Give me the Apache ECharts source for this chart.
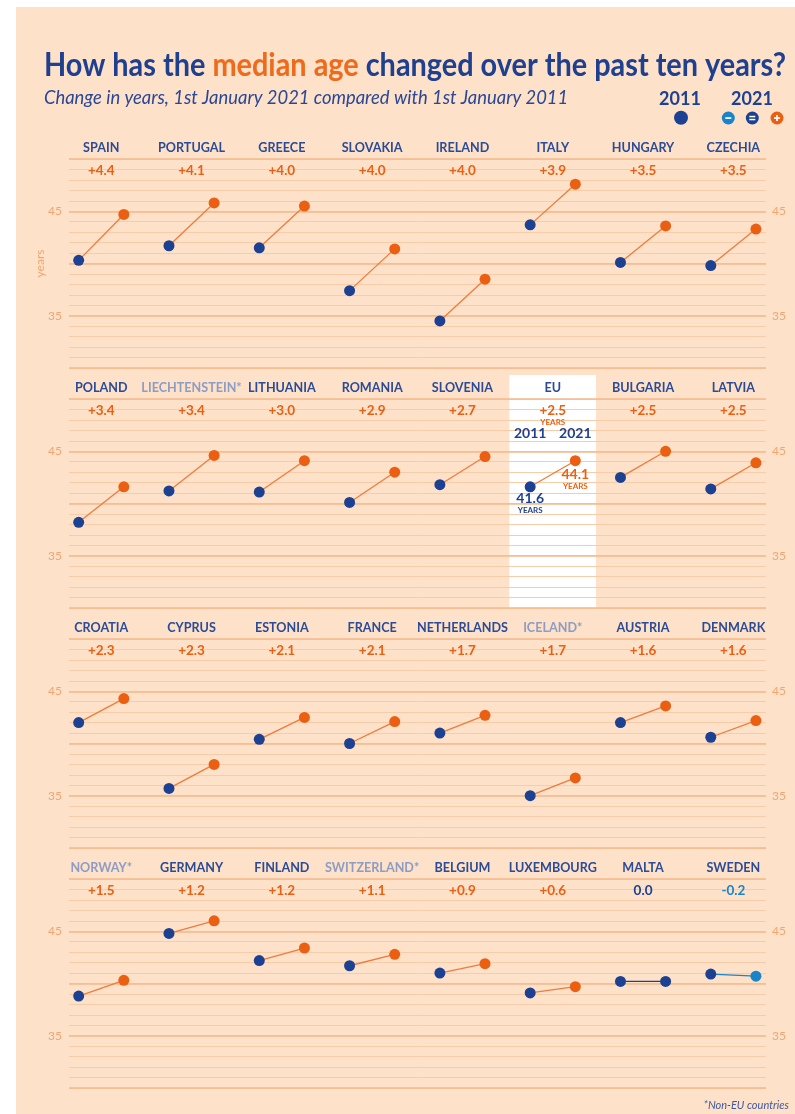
<!DOCTYPE html>
<html><head><meta charset="utf-8">
<script src="https://cdn.jsdelivr.net/npm/echarts@6/dist/echarts.min.js"></script>
<style>
html,body{margin:0;padding:0;background:#ffffff;}
#bg{position:absolute;left:16px;top:7px;width:779px;height:1107px;background:#fde1c8;}
#chart{position:absolute;left:0;top:0;width:795px;height:1114px;}
</style></head>
<body><div id="bg"></div><div id="chart"></div>
<script>
// ---------- DATA ----------
const countries = [
  'SPAIN','PORTUGAL','GREECE','SLOVAKIA','IRELAND','ITALY','HUNGARY','CZECHIA',
  'POLAND','LIECHTENSTEIN*','LITHUANIA','ROMANIA','SLOVENIA','EU','BULGARIA','LATVIA',
  'CROATIA','CYPRUS','ESTONIA','FRANCE','NETHERLANDS','ICELAND*','AUSTRIA','DENMARK',
  'NORWAY*','GERMANY','FINLAND','SWITZERLAND*','BELGIUM','LUXEMBOURG','MALTA','SWEDEN'
];
const age2011 = [
  40.3,41.7,41.5,37.4,34.5,43.7,40.1,39.8,
  38.2,41.2,41.1,40.1,41.8,41.6,42.5,41.4,
  42.0,35.7,40.4,40.0,41.0,35.0,42.0,40.6,
  38.8,44.8,42.2,41.7,41.0,39.1,40.2,40.9
];
const age2021 = [
  44.7,45.8,45.5,41.4,38.5,47.6,43.6,43.3,
  41.6,44.6,44.1,43.0,44.5,44.1,45.0,43.9,
  44.3,38.0,42.5,42.1,42.7,36.7,43.6,42.2,
  40.3,46.0,43.4,42.8,41.9,39.7,40.2,40.7
];
const change = [
  4.4,4.1,4.0,4.0,4.0,3.9,3.5,3.5,
  3.4,3.4,3.0,2.9,2.7,2.5,2.5,2.5,
  2.3,2.3,2.1,2.1,1.7,1.7,1.6,1.6,
  1.5,1.2,1.2,1.1,0.9,0.6,0.0,-0.2
];
const years = ['2011','2021'];
const yTickLabels = [35, 45];
const yMin = 30, yMax = 50;

// ---------- STYLE ----------
const NAVY = '#1c4192', ORANGE = '#ea5f12', LBLUE = '#1b84c8', LINE_OR = '#ee7b3e';
const NAME_EU = '#2c4b96', NAME_NON = '#8e9cc4', AXIS_LBL = '#f3a571';
const MINOR = '#f9cca9', MAJOR = '#f6b88c';
const FONT = 'Lato, "Open Sans", sans-serif';
const PER_ROW = 8, ROWS = 4;
const ROW_TOP0 = 159.1, ROW_STEP = 240, ROW_H = 208.8;

const fmtChange = v => (v > 0 ? '+' : '') + v.toFixed(1);
const chgStyle = v => v > 0 ? 'p' : (v < 0 ? 'n' : 'z');
const euIndex = countries.indexOf('EU');

const grid = [], xAxis = [], yAxis = [], series = [];

for (let r = 0; r < ROWS; r++) {
  const top = ROW_TOP0 + r * ROW_STEP;
  const names = countries.slice(r*PER_ROW, r*PER_ROW+PER_ROW);
  const gL = grid.length;
  grid.push({left: 69, width: 697, top: top, height: ROW_H});
  const gD = grid.length;
  grid.push({left: 56.1, width: 722.4, top: top, height: ROW_H});

  // line grid axes
  xAxis.push({gridIndex: gL, type:'value', min:0, max:1, show:false});
  yAxis.push({
    gridIndex: gL, type:'value', min:yMin, max:yMax, interval:1, position:'left', z:3,
    name: r === 0 ? 'years' : '', nameLocation:'middle', nameGap: 23, nameMoveOverlap: false,
    nameTextStyle:{color: AXIS_LBL, fontSize: 12, fontFamily: FONT},
    axisLine:{show:false}, axisTick:{show:false},
    axisLabel:{margin: 7, color: AXIS_LBL, fontSize: 12, fontFamily: FONT,
      formatter: v => yTickLabels.includes(v) ? String(v) : ''},
    splitLine:{show:true, lineStyle:{color: MINOR, width: 1}}
  });
  yAxis.push({
    gridIndex: gL, type:'value', min:yMin, max:yMax, interval:5, position:'right', z:3,
    axisLine:{show:false}, axisTick:{show:false},
    axisLabel:{margin: 6, color: AXIS_LBL, fontSize: 12, fontFamily: FONT,
      formatter: v => yTickLabels.includes(v) ? String(v) : ''},
    splitLine:{show:true, lineStyle:{color: MAJOR, width: 1.6}}
  });

  // data grid axes
  const xD = xAxis.length;
  xAxis.push({gridIndex: gD, type:'value', min:-0.5, max: 2*PER_ROW-0.5, show:false});
  // country names
  xAxis.push({
    gridIndex: gD, type:'category', position:'top', data: names, z:4,
    axisLine:{show:false}, axisTick:{show:false}, splitLine:{show:false},
    axisLabel:{interval:0, margin:4,
      formatter: (v) => v.endsWith('*') ? '{ne|' + v + '}' : '{eu|' + v + '}',
      rich:{
        eu:{color: NAME_EU, fontSize: 12.6, fontWeight:'bold', fontFamily: FONT, lineHeight: 15},
        ne:{color: NAME_NON, fontSize: 12.6, fontWeight:'bold', fontFamily: FONT, lineHeight: 15}
      }}
  });
  // change values
  xAxis.push({
    gridIndex: gD, type:'category', position:'bottom', offset: -(ROW_H - 4.0), data: names, z:4,
    axisLine:{show:false}, axisTick:{show:false}, splitLine:{show:false},
    axisLabel:{interval:0, margin:0,
      formatter: (v, i) => {
        const k = r*PER_ROW + i;
        const s = '{' + chgStyle(change[k]) + '|' + fmtChange(change[k]) + '}';
        return k === euIndex ? s + '\n{yr|YEARS}' : s;
      },
      rich:{
        p:{color: ORANGE, fontSize: 13.5, fontWeight:'bold', fontFamily: FONT, lineHeight: 15},
        z:{color: NAVY, fontSize: 13.5, fontWeight:'bold', fontFamily: FONT, lineHeight: 15},
        n:{color: LBLUE, fontSize: 13.5, fontWeight:'bold', fontFamily: FONT, lineHeight: 15},
        yr:{color: ORANGE, fontSize: 8, fontWeight:'bold', fontFamily: FONT, lineHeight: 8}
      }}
  });
  // year headers (only shown for the EU panel)
  const hasEU = euIndex >= r*PER_ROW && euIndex < (r+1)*PER_ROW;
  if (hasEU) {
    const yearCats = [];
    names.forEach(() => years.forEach(y => yearCats.push(y)));
    xAxis.push({
      gridIndex: gD, type:'category', position:'bottom', offset: -(ROW_H - 26.7), data: yearCats, z:4,
      axisLine:{show:false}, axisTick:{show:false}, splitLine:{show:false},
      axisLabel:{interval:0, margin:0, color: NAVY, fontSize: 14, fontWeight:'bold', fontFamily: FONT, lineHeight: 15,
        formatter: (v, i) => (r*PER_ROW + Math.floor(i/2)) === euIndex ? v : ''}
    });
  }
  const yD = yAxis.length;
  yAxis.push({gridIndex: gD, type:'value', min:yMin, max:yMax, show:false});

  // series
  for (let c = 0; c < PER_ROW; c++) {
    const k = r*PER_ROW + c;
    const d = change[k];
    const endCol = d > 0 ? ORANGE : (d < 0 ? LBLUE : NAVY);
    const lineCol = d > 0 ? LINE_OR : (d < 0 ? LBLUE : NAVY);
    const isEU = k === euIndex;
    const p0 = {value:[2*c, age2011[k]], itemStyle:{color: NAVY}};
    const p1 = {value:[2*c+1, age2021[k]], itemStyle:{color: endCol}};
    if (isEU) {
      p0.label = {show:true, position:'bottom', distance:0,
        formatter: age2011[k].toFixed(1) + '\n{u|YEARS}',
        color: NAVY, fontSize: 14, fontWeight:'bold', fontFamily: FONT, lineHeight: 13,
        rich:{u:{color: NAVY, fontSize: 8, fontWeight:'bold', fontFamily: FONT, lineHeight: 10}}};
      p1.label = {show:true, position:'bottom', distance:2,
        formatter: age2021[k].toFixed(1) + '\n{u|YEARS}',
        color: ORANGE, fontSize: 14, fontWeight:'bold', fontFamily: FONT, lineHeight: 13,
        rich:{u:{color: ORANGE, fontSize: 8, fontWeight:'bold', fontFamily: FONT, lineHeight: 10}}};
    }
    series.push({
      type:'line', name: countries[k], xAxisIndex: xD, yAxisIndex: yD,
      data:[p0, p1], symbol:'circle', symbolSize: 11, showSymbol: true,
      lineStyle:{color: lineCol, width: 1.3}, z: 5, silent: true, animation: false
    });
  }
}

// ---------- TITLE (condensed look via horizontal scaling) ----------
const titleA1 = 'How has the ', titleB = 'median age', titleA2 = ' changed over the past ten years?';
const TITLE_PX = 33, TITLE_W = 742;
const mctx = document.createElement('canvas').getContext('2d');
mctx.font = 'bold ' + TITLE_PX + 'px Lato';
const titleScale = TITLE_W / mctx.measureText(titleA1 + titleB + titleA2).width;

// ---------- GRAPHIC (EU highlight + legend + title) ----------
const graphic = [
  {type:'rect', z:0, shape:{x:509.3, y:375, width:86.7, height:232.5}, style:{fill:'#ffffff'}, silent:true},
  {type:'text', x:44, y:65, scaleX: titleScale, style:{
    text:'{a|' + titleA1 + '}{b|' + titleB + '}{a|' + titleA2 + '}', textAlign:'left', textVerticalAlign:'middle',
    rich:{
      a:{fill:'#1f3f8f', fontSize: TITLE_PX, fontWeight:'bold', fontFamily:'Lato'},
      b:{fill:'#ee6a1c', fontSize: TITLE_PX, fontWeight:'bold', fontFamily:'Lato'}
    }}},
  {type:'text', x:680, y:99, style:{text:'2011', fill: NAVY, font:'bold 18px Lato', textAlign:'center', textVerticalAlign:'middle'}},
  {type:'text', x:752, y:99, style:{text:'2021', fill: NAVY, font:'bold 18px Lato', textAlign:'center', textVerticalAlign:'middle'}},
  {type:'circle', shape:{cx:681, cy:117.7, r:7}, style:{fill: NAVY}},
  {type:'circle', shape:{cx:728.3, cy:118, r:6.5}, style:{fill: LBLUE}},
  {type:'rect', shape:{x:725.3, y:117.2, width:6, height:1.7}, style:{fill:'#ffffff'}},
  {type:'circle', shape:{cx:752.3, cy:118, r:6.5}, style:{fill: NAVY}},
  {type:'rect', shape:{x:749.3, y:115.8, width:6, height:1.5}, style:{fill:'#ffffff'}},
  {type:'rect', shape:{x:749.3, y:118.8, width:6, height:1.5}, style:{fill:'#ffffff'}},
  {type:'circle', shape:{cx:777, cy:118, r:6.5}, style:{fill: ORANGE}},
  {type:'rect', shape:{x:774, y:117.2, width:6, height:1.7}, style:{fill:'#ffffff'}},
  {type:'rect', shape:{x:776.15, y:115, width:1.7, height:6}, style:{fill:'#ffffff'}}
];

const option = {
  animation: false,
  title: [
    {text:'Change in years, 1st January 2021 compared with 1st January 2011', left: 44, top: 89, padding: 0,
      textStyle:{color:'#2a4795', fontSize: 18.4, fontStyle:'italic', fontWeight:'normal', fontFamily: FONT, lineHeight: 18}},
    {text:'*Non-EU countries', right: 6, top: 1099, padding: 0,
      textStyle:{color:'#3f5a9f', fontSize: 11, fontStyle:'italic', fontWeight:'normal', fontFamily: FONT, lineHeight: 12}}
  ],
  grid, xAxis, yAxis, series, graphic
};
const chart = echarts.init(document.getElementById('chart'), null, {renderer:'canvas'});
chart.setOption(option);
</script>
</body></html>
